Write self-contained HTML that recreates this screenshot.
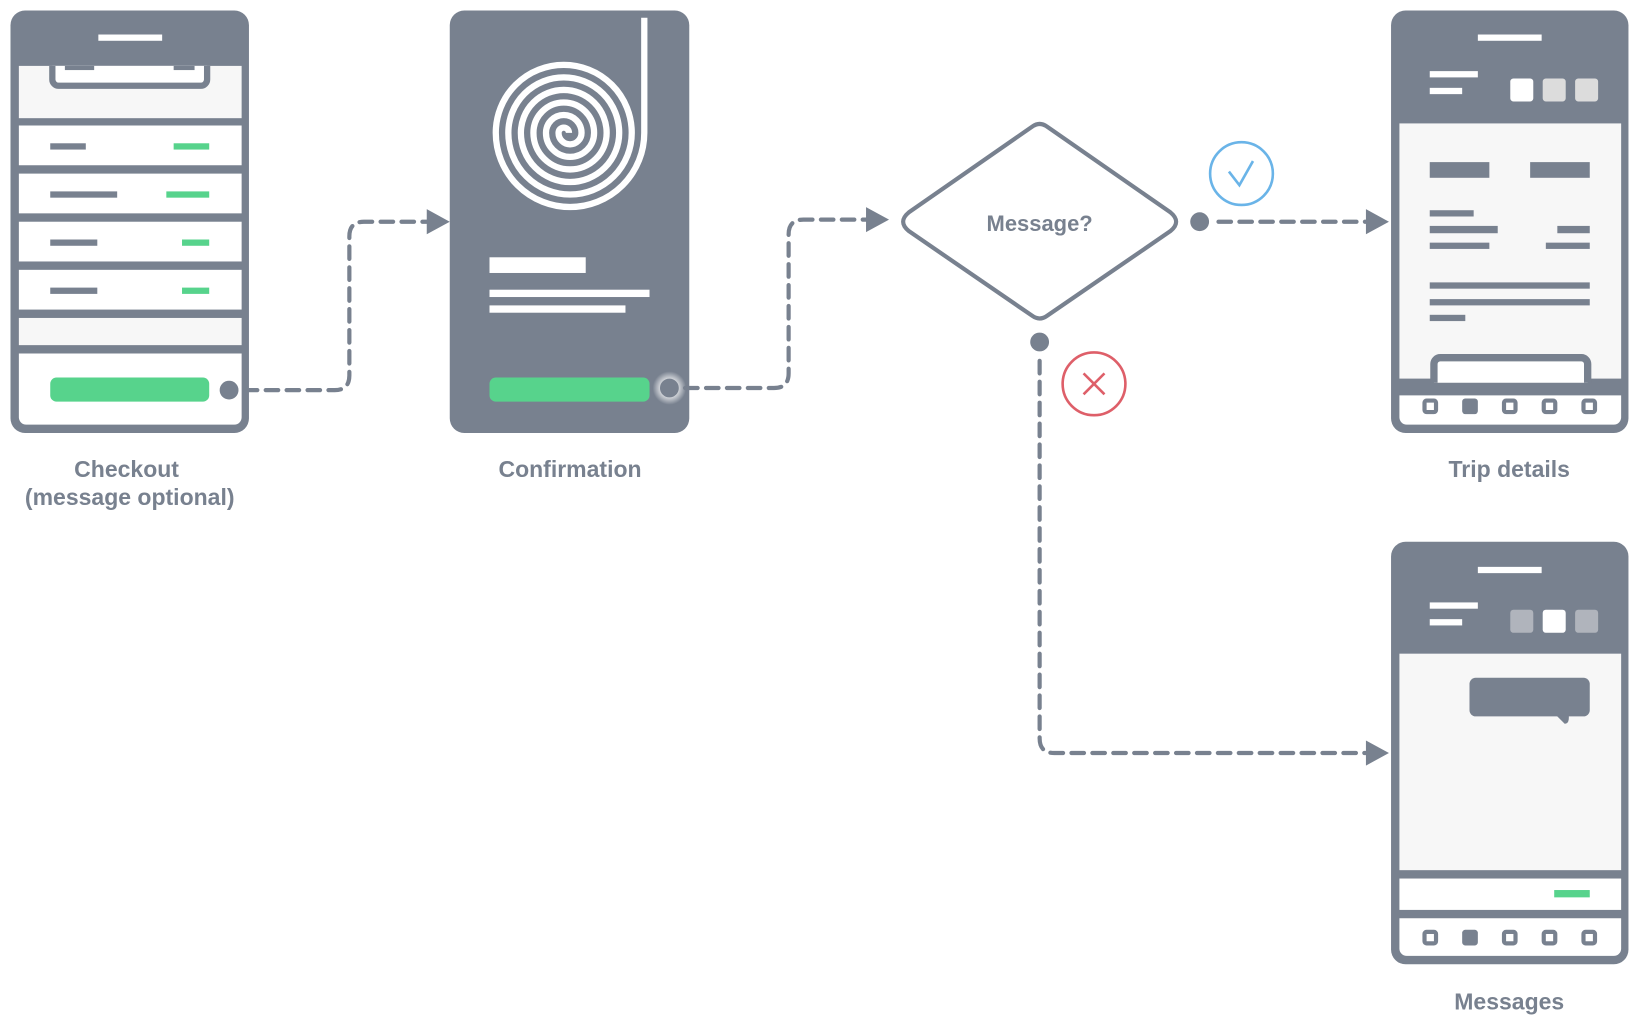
<!DOCTYPE html>
<html><head><meta charset="utf-8"><style>
html,body{margin:0;padding:0;background:#fff;width:1640px;height:1026px;overflow:hidden}
svg{display:block}
text{font-family:"Liberation Sans",sans-serif;font-weight:bold;fill:#78818f;font-size:22px}
</style></head><body>
<svg width="1640" height="1026" viewBox="0 0 1568 981" xmlns="http://www.w3.org/2000/svg">
<defs>
<radialGradient id="glow"><stop offset="0.4" stop-color="#fff" stop-opacity="0.9"/><stop offset="1" stop-color="#fff" stop-opacity="0"/></radialGradient>
</defs>
<!-- Checkout phone -->
<rect x="10" y="10" width="228" height="404" rx="14" fill="#78818f"/>
<rect x="94" y="33" width="61" height="6" fill="#fff"/>
<rect x="18" y="63" width="213" height="50" fill="#f7f7f7"/>
<path d="M50 63 V76 a6 6 0 0 0 6 6 H192 a6 6 0 0 0 6 -6 V63" fill="#fff" stroke="#78818f" stroke-width="6"/>
<rect x="62" y="63" width="28" height="4" fill="#78818f"/><rect x="166" y="63" width="20" height="4" fill="#78818f"/>
<rect x="18" y="120" width="213" height="38" fill="#fff"/>
<rect x="18" y="166" width="213" height="38" fill="#fff"/>
<rect x="18" y="212" width="213" height="38" fill="#fff"/>
<rect x="18" y="258" width="213" height="38" fill="#fff"/>
<rect x="18" y="304" width="213" height="26" fill="#f7f7f7"/>
<path d="M18 338 H231 V399 a7 7 0 0 1 -7 7 H25 a7 7 0 0 1 -7 -7Z" fill="#fff"/>
<rect x="48" y="137" width="34" height="6" fill="#78818f"/><rect x="166" y="137" width="34" height="6" fill="#57d38c"/>
<rect x="48" y="183" width="64" height="6" fill="#78818f"/><rect x="159" y="183" width="41" height="6" fill="#57d38c"/>
<rect x="48" y="229" width="45" height="6" fill="#78818f"/><rect x="174" y="229" width="26" height="6" fill="#57d38c"/>
<rect x="48" y="275" width="45" height="6" fill="#78818f"/><rect x="174" y="275" width="26" height="6" fill="#57d38c"/>
<rect x="48" y="361" width="152" height="23" rx="6" fill="#57d38c"/>
<circle cx="219" cy="373" r="9" fill="#78818f"/>

<!-- Confirmation -->
<rect x="430" y="10" width="229" height="404" rx="14" fill="#78818f"/>
<path d="M616 17 V127 A71 71 0 0 1 474 127 A65 65 0 0 1 604 127 A59 59 0 0 1 486 127 A53 53 0 0 1 592 127 A47 47 0 0 1 498 127 A41 41 0 0 1 580 127 A35 35 0 0 1 510 127 A29 29 0 0 1 568 127 A23 23 0 0 1 522 127 A17 17 0 0 1 556 127 A11 11 0 0 1 534 127 A5 5 0 0 1 544 127" fill="none" stroke="#fff" stroke-width="6"/>
<rect x="468" y="246" width="92" height="15" fill="#fff"/>
<rect x="468" y="277" width="153" height="7" fill="#fff"/>
<rect x="468" y="292" width="130" height="7" fill="#fff"/>
<rect x="468" y="361" width="153" height="23" rx="6" fill="#57d38c"/>
<circle cx="640" cy="371" r="16" fill="url(#glow)"/>
<circle cx="640" cy="371" r="9" fill="#78818f"/>

<!-- connectors -->
<g fill="none" stroke="#78818f" stroke-width="4" stroke-dasharray="12 8" stroke-linecap="round">
<path d="M234 373 H320 Q334 373 334 359 V226 Q334 212 348 212 H410"/>
<path d="M655 371 H740 Q754 371 754 357 V224 Q754 210 768 210 H830"/>
<path d="M1165 212 H1310"/>
<path d="M994 345 V706 Q994 720 1008 720 H1310"/>
</g>
<g fill="#78818f">
<path d="M408 200 L430 212 L408 224Z"/>
<path d="M828 198 L850 210 L828 222Z"/>
<path d="M1306 200 L1328 212 L1306 224Z"/>
<path d="M1306 708 L1328 720 L1306 732Z"/>
<circle cx="1147" cy="212" r="9"/>
<circle cx="994" cy="327" r="9"/>
</g>

<!-- diamond -->
<path d="M987 121 Q994 116 1001 121 L1119 203 Q1130 212 1119 221 L1001 302 Q994 307 987 302 L869 221 Q858 212 869 203Z" fill="#fff" stroke="#78818f" stroke-width="4"/>
<text x="994" y="221" text-anchor="middle" style="font-size:21px">Message?</text>
<circle cx="1187" cy="166" r="30" fill="none" stroke="#6ab4e8" stroke-width="2.5"/>
<path d="M1175 164 L1185 177 L1198 154" fill="none" stroke="#6ab4e8" stroke-width="2.5"/>
<circle cx="1046" cy="367" r="30" fill="none" stroke="#de5f69" stroke-width="2.5"/>
<path d="M1036 357 L1056 377 M1056 357 L1036 377" stroke="#de5f69" stroke-width="2.5"/>

<!-- Trip details -->
<rect x="1330" y="10" width="227" height="404" rx="14" fill="#78818f"/>
<rect x="1413" y="33" width="61" height="6" fill="#fff"/>
<rect x="1367" y="68" width="46" height="6" fill="#fff"/><rect x="1367" y="84" width="31" height="6" fill="#fff"/>
<rect x="1444" y="75" width="22" height="22" rx="3" fill="#fff"/>
<rect x="1475" y="75" width="22" height="22" rx="3" fill="#dcdcdc"/>
<rect x="1506" y="75" width="22" height="22" rx="3" fill="#dcdcdc"/>
<rect x="1338" y="118" width="212" height="244" fill="#f7f7f7"/>
<g fill="#78818f">
<rect x="1367" y="155" width="57" height="15"/><rect x="1463" y="155" width="57" height="15"/>
<rect x="1367" y="201" width="42" height="6"/>
<rect x="1367" y="216" width="65" height="7"/><rect x="1489" y="216" width="31" height="7"/>
<rect x="1367" y="232" width="57" height="6"/><rect x="1478" y="232" width="42" height="6"/>
<rect x="1367" y="270" width="153" height="6"/><rect x="1367" y="286" width="153" height="6"/><rect x="1367" y="301" width="34" height="6"/>
</g>
<path d="M1371 366 V348 a6 6 0 0 1 6 -6 H1512 a6 6 0 0 1 6 6 V366" fill="#fff" stroke="#78818f" stroke-width="7"/>
<path d="M1338 378 H1550 V399 a7 7 0 0 1 -7 7 H1345 a7 7 0 0 1 -7 -7Z" fill="#fff"/>
<g fill="none" stroke="#78818f" stroke-width="4">
<rect x="1362" y="383" width="11" height="11" rx="2"/><rect x="1438" y="383" width="11" height="11" rx="2"/><rect x="1476" y="383" width="11" height="11" rx="2"/><rect x="1514" y="383" width="11" height="11" rx="2"/>
</g>
<rect x="1398" y="381" width="15" height="15" rx="3" fill="#78818f"/>

<!-- Messages -->
<rect x="1330" y="518" width="227" height="404" rx="14" fill="#78818f"/>
<rect x="1413" y="542" width="61" height="6" fill="#fff"/>
<rect x="1367" y="576" width="46" height="6" fill="#fff"/><rect x="1367" y="592" width="31" height="6" fill="#fff"/>
<rect x="1444" y="583" width="22" height="22" rx="3" fill="#b0b4bc"/>
<rect x="1475" y="583" width="22" height="22" rx="3" fill="#fff"/>
<rect x="1506" y="583" width="22" height="22" rx="3" fill="#b0b4bc"/>
<rect x="1338" y="625" width="212" height="207" fill="#f7f7f7"/>
<rect x="1405" y="648" width="115" height="37" rx="6" fill="#78818f"/>
<path d="M1488 684 L1496 692 Q1500 692 1500 686 L1500 684Z" fill="#78818f"/>
<rect x="1338" y="840" width="212" height="30" fill="#fff"/>
<rect x="1486" y="851" width="34" height="7" fill="#57d38c"/>
<path d="M1338 878 H1550 V907 a7 7 0 0 1 -7 7 H1345 a7 7 0 0 1 -7 -7Z" fill="#fff"/>
<g fill="none" stroke="#78818f" stroke-width="4">
<rect x="1362" y="891" width="11" height="11" rx="2"/><rect x="1438" y="891" width="11" height="11" rx="2"/><rect x="1476" y="891" width="11" height="11" rx="2"/><rect x="1514" y="891" width="11" height="11" rx="2"/>
</g>
<rect x="1398" y="889" width="15" height="15" rx="3" fill="#78818f"/>

<!-- labels -->
<text x="121" y="456" text-anchor="middle">Checkout</text>
<text x="124" y="483" text-anchor="middle">(message optional)</text>
<text x="545" y="456" text-anchor="middle">Confirmation</text>
<text x="1443" y="456" text-anchor="middle">Trip details</text>
<text x="1443" y="965" text-anchor="middle">Messages</text>
</svg>
</body></html>
